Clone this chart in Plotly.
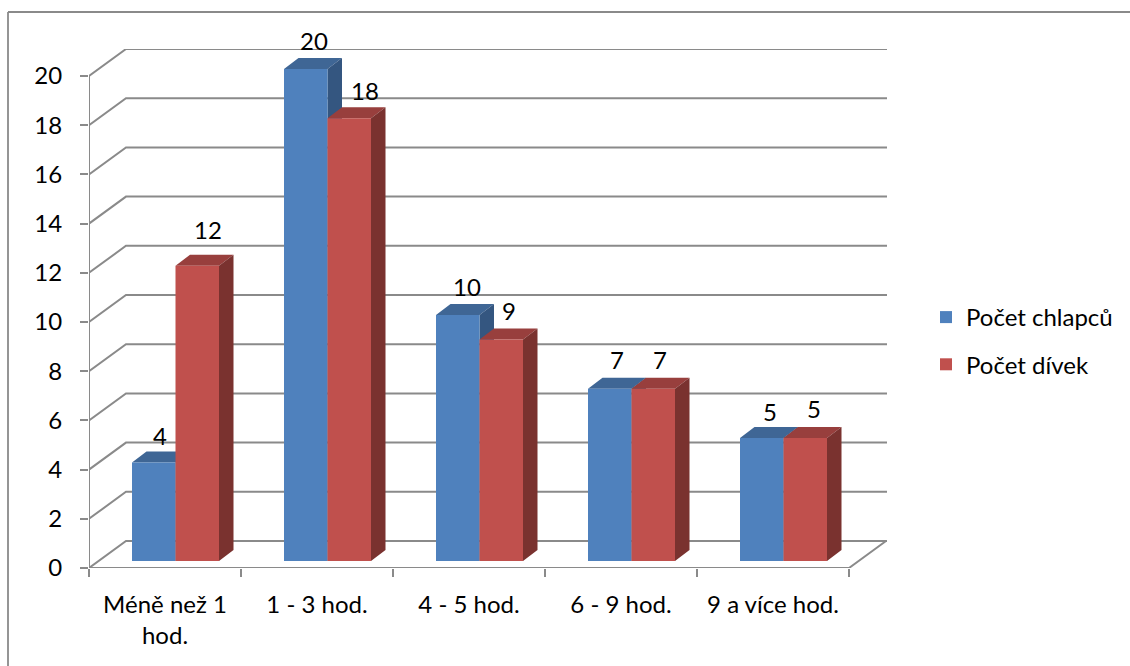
import plotly.graph_objects as go

categories = ["Méně než 1<br>hod.", "1 - 3 hod.", "4 - 5 hod.", "6 - 9 hod.", "9 a více hod."]
boys = [4, 20, 10, 7, 5]
girls = [12, 18, 9, 7, 5]
y_ticks = list(range(0, 21, 2))
series_names = ["Počet chlapců", "Počet dívek"]

# pixel layout of the plot frame
W, H = 1130, 666
L, R, T, B = 89, 887, 49, 568
PX_X = 152.0   # pixels per category
PX_Y = 24.6    # pixels per unit of value
X_MAX = (R - L) / PX_X
Y_MAX = (B - T) / PX_Y

def dx(px):
    return px / PX_X

def dy(px):
    return px / PX_Y

WALL_X, WALL_Y = dx(37), dy(27)
DEPTH_X, DEPTH_Y = dx(14.5), dy(11)
BAR_START, BAR_W = dx(43), dx(43.5)
BASE = dy(7)

GREY = "#8A8A8A"
FONT = "Lato"
FS = 24
FRONT = ["#4F81BD", "#C0504D"]
TOP = ["#3F6695", "#983F3D"]
SIDE = ["#345680", "#7A322F"]

# nudges in pixels of each value label, relative to the bar's top-centre
NUDGE_BOYS = [(6, 27), (8, 29), (9, 29), (7, 29), (8, 27)]
NUDGE_GIRLS = [(11, 36), (16, 28), (8, 29), (7, 29), (9, 30)]

fig = go.Figure()

# walls: diagonal + back gridline for each tick
gx, gy = [], []
for v in y_ticks:
    gx += [0, WALL_X, X_MAX, None]
    gy += [v, v + WALL_Y, v + WALL_Y, None]
# left edge, floor front, floor right edge
gx += [0, 0, None, 0, 5, 5 + WALL_X, None]
gy += [0, y_ticks[-1], None, 0, 0, WALL_Y, None]
fig.add_trace(go.Scatter(x=gx, y=gy, mode="lines", line=dict(color=GREY, width=2),
                         showlegend=False, hoverinfo="skip", cliponaxis=False, zorder=0))

def faces(values, s):
    tx, ty, sx, sy = [], [], [], []
    for i, v in enumerate(values):
        x0 = i + BAR_START + s * BAR_W
        x1 = x0 + BAR_W
        top = v + BASE
        tx += [x0, x1, x1 + DEPTH_X, x0 + DEPTH_X, x0, None]
        ty += [top, top, top + DEPTH_Y, top + DEPTH_Y, top, None]
        sx += [x1, x1 + DEPTH_X, x1 + DEPTH_X, x1, x1, None]
        sy += [BASE, BASE + DEPTH_Y, top + DEPTH_Y, top, BASE, None]
    return tx, ty, sx, sy

for s, values in enumerate([boys, girls]):
    z = 1 + 2 * s
    tx, ty, sx, sy = faces(values, s)
    for fx, fy, col in [(tx, ty, TOP[s]), (sx, sy, SIDE[s])]:
        fig.add_trace(go.Scatter(x=fx, y=fy, mode="lines", fill="toself", fillcolor=col,
                                 line=dict(width=0, color=col), showlegend=False,
                                 hoverinfo="skip", cliponaxis=False, zorder=z))
    fig.add_trace(go.Bar(x=[i + BAR_START + s * BAR_W for i in range(5)], y=values,
                         base=[BASE] * 5, width=BAR_W, offset=0,
                         marker=dict(color=FRONT[s], line=dict(width=0)),
                         name=series_names[s], legendgroup=series_names[s],
                         zorder=z + 1))

for s, (values, nudges) in enumerate([(boys, NUDGE_BOYS), (girls, NUDGE_GIRLS)]):
    for i, (v, (nx, ny)) in enumerate(zip(values, nudges)):
        fig.add_annotation(x=i + BAR_START + s * BAR_W + BAR_W / 2, y=v + BASE, text=str(v),
                           showarrow=False, xshift=nx, yshift=ny,
                           font=dict(family=FONT, size=FS, color="black"))

def px_x(p):
    return (p - L) / (R - L)

def px_y(p):
    return (B - p) / (B - T)

# outer chart frame: top and left edges only are inside the picture
fig.add_shape(type="line", xref="paper", yref="paper", x0=px_x(8), x1=px_x(W), y0=px_y(12), y1=px_y(12),
              line=dict(color=GREY, width=1.8))
fig.add_shape(type="line", xref="paper", yref="paper", x0=px_x(8), x1=px_x(8), y0=px_y(12), y1=px_y(H),
              line=dict(color=GREY, width=1.8))

fig.update_layout(
    width=W, height=H,
    margin=dict(l=L, r=W - R, t=T, b=H - B, autoexpand=False),
    paper_bgcolor="white", plot_bgcolor="white",
    barmode="overlay",
    font=dict(family=FONT, size=FS, color="black"),
    legend=dict(x=px_x(926), y=px_y(295), xanchor="left", yanchor="top",
                tracegroupgap=13, font=dict(family=FONT, size=FS, color="black"),
                bgcolor="rgba(0,0,0,0)"),
    xaxis=dict(range=[0, X_MAX], tickmode="array", tickvals=[i + 0.5 for i in range(5)],
               ticktext=categories, ticks="", tickangle=0, ticklabelstandoff=20,
               showgrid=False, zeroline=False, showline=False, fixedrange=True,
               minor=dict(tickmode="array", tickvals=list(range(6)), ticks="outside",
                          ticklen=8, tickwidth=1.8, tickcolor=GREY, showgrid=False)),
    yaxis=dict(range=[0, Y_MAX], tickmode="array", tickvals=y_ticks, ticks="outside",
               ticklen=8, tickwidth=1.8, tickcolor=GREY, ticklabelstandoff=13,
               showgrid=False, zeroline=False, showline=False, fixedrange=True),
)

fig.write_html("out.html", config={"displayModeBar": False},
               post_script="document.body.style.margin='0';")
